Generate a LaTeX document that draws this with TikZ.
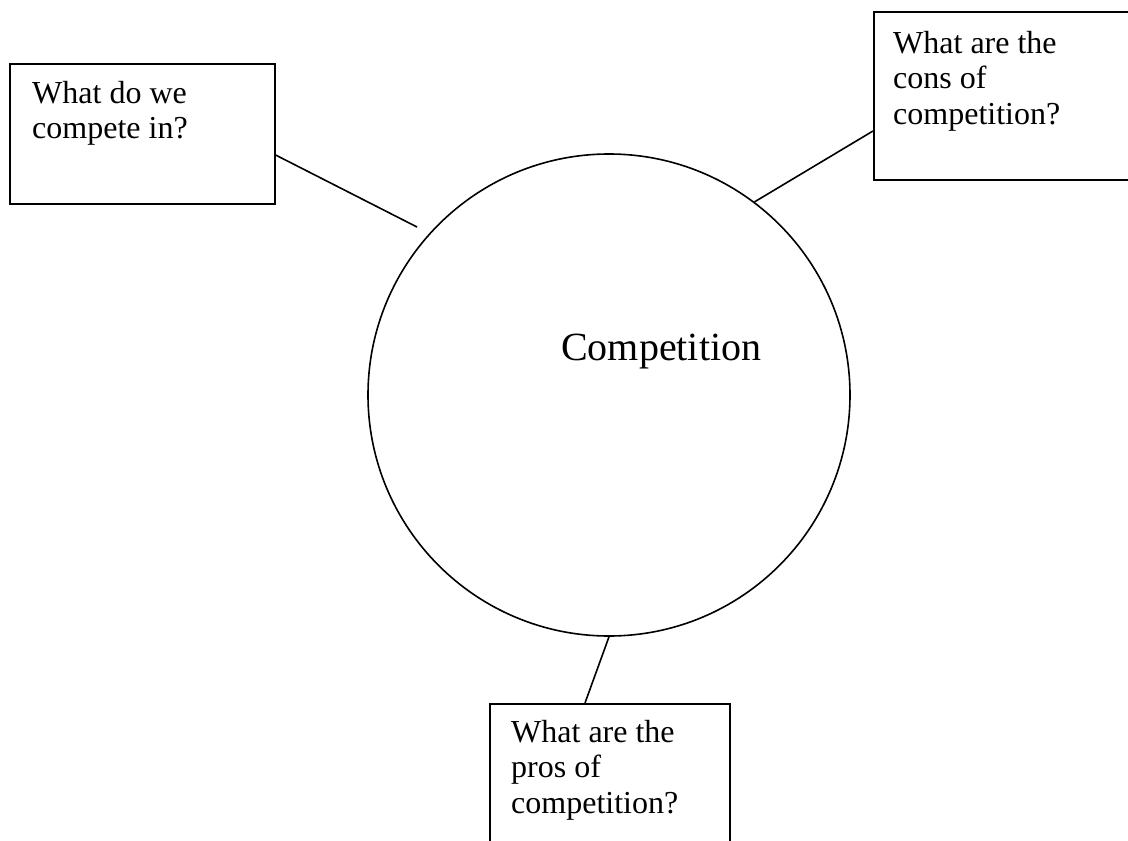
\documentclass[tikz,border=0pt]{standalone}
\usepackage{fontspec}
\setmainfont{Liberation Serif}
\usetikzlibrary{calc}
\tikzset{
  qbox/.style={draw, line width=1.6pt, rectangle, inner sep=0pt, anchor=north west},
  qtext/.style={inner sep=0pt, anchor=north west, align=left, font=\fontsize{32}{35.5}\selectfont},
  hub/.style={draw, line width=1.6pt, circle, inner sep=0pt, minimum size=482pt},
  conn/.style={line width=1.6pt}
}
\begin{document}
\begin{tikzpicture}[x={(1pt,0pt)}, y={(0pt,-1pt)}]
\clip (0,0) rectangle (1128,841);
\fill[white] (0,0) rectangle (1128,841);
% central circle
\node[hub] (c) at (609,395) {};
\node[inner sep=0pt, anchor=base west, font=\fontsize{40}{48}\selectfont] (ct) at (561,360) {Competition};
% boxes
\node[qbox, minimum width=265pt, minimum height=140pt] (b1) at (9,63) {};
\node[qtext] (t1) at (32,81) {What do we\\compete in?};
\node[qbox, minimum width=280pt, minimum height=168pt] (b2) at (873,11) {};
\node[qtext] (t2) at (893,31) {What are the\\cons of\\competition?};
\node[qbox, minimum width=240pt, minimum height=170pt] (b3) at (489,703) {};
\node[qtext] (t3) at (511,720) {What are the\\pros of\\competition?};
% connectors
\coordinate (e1) at (417,227);
\draw[conn] ($(b1.north east)+(0,92)$) -- (e1);
\draw[conn] (c.53.3) -- ($(b2.north west)+(0,120)$);
\draw[conn] (c.-90.2) -- ($(b3.north west)+(96,0)$);
\end{tikzpicture}
\end{document}
